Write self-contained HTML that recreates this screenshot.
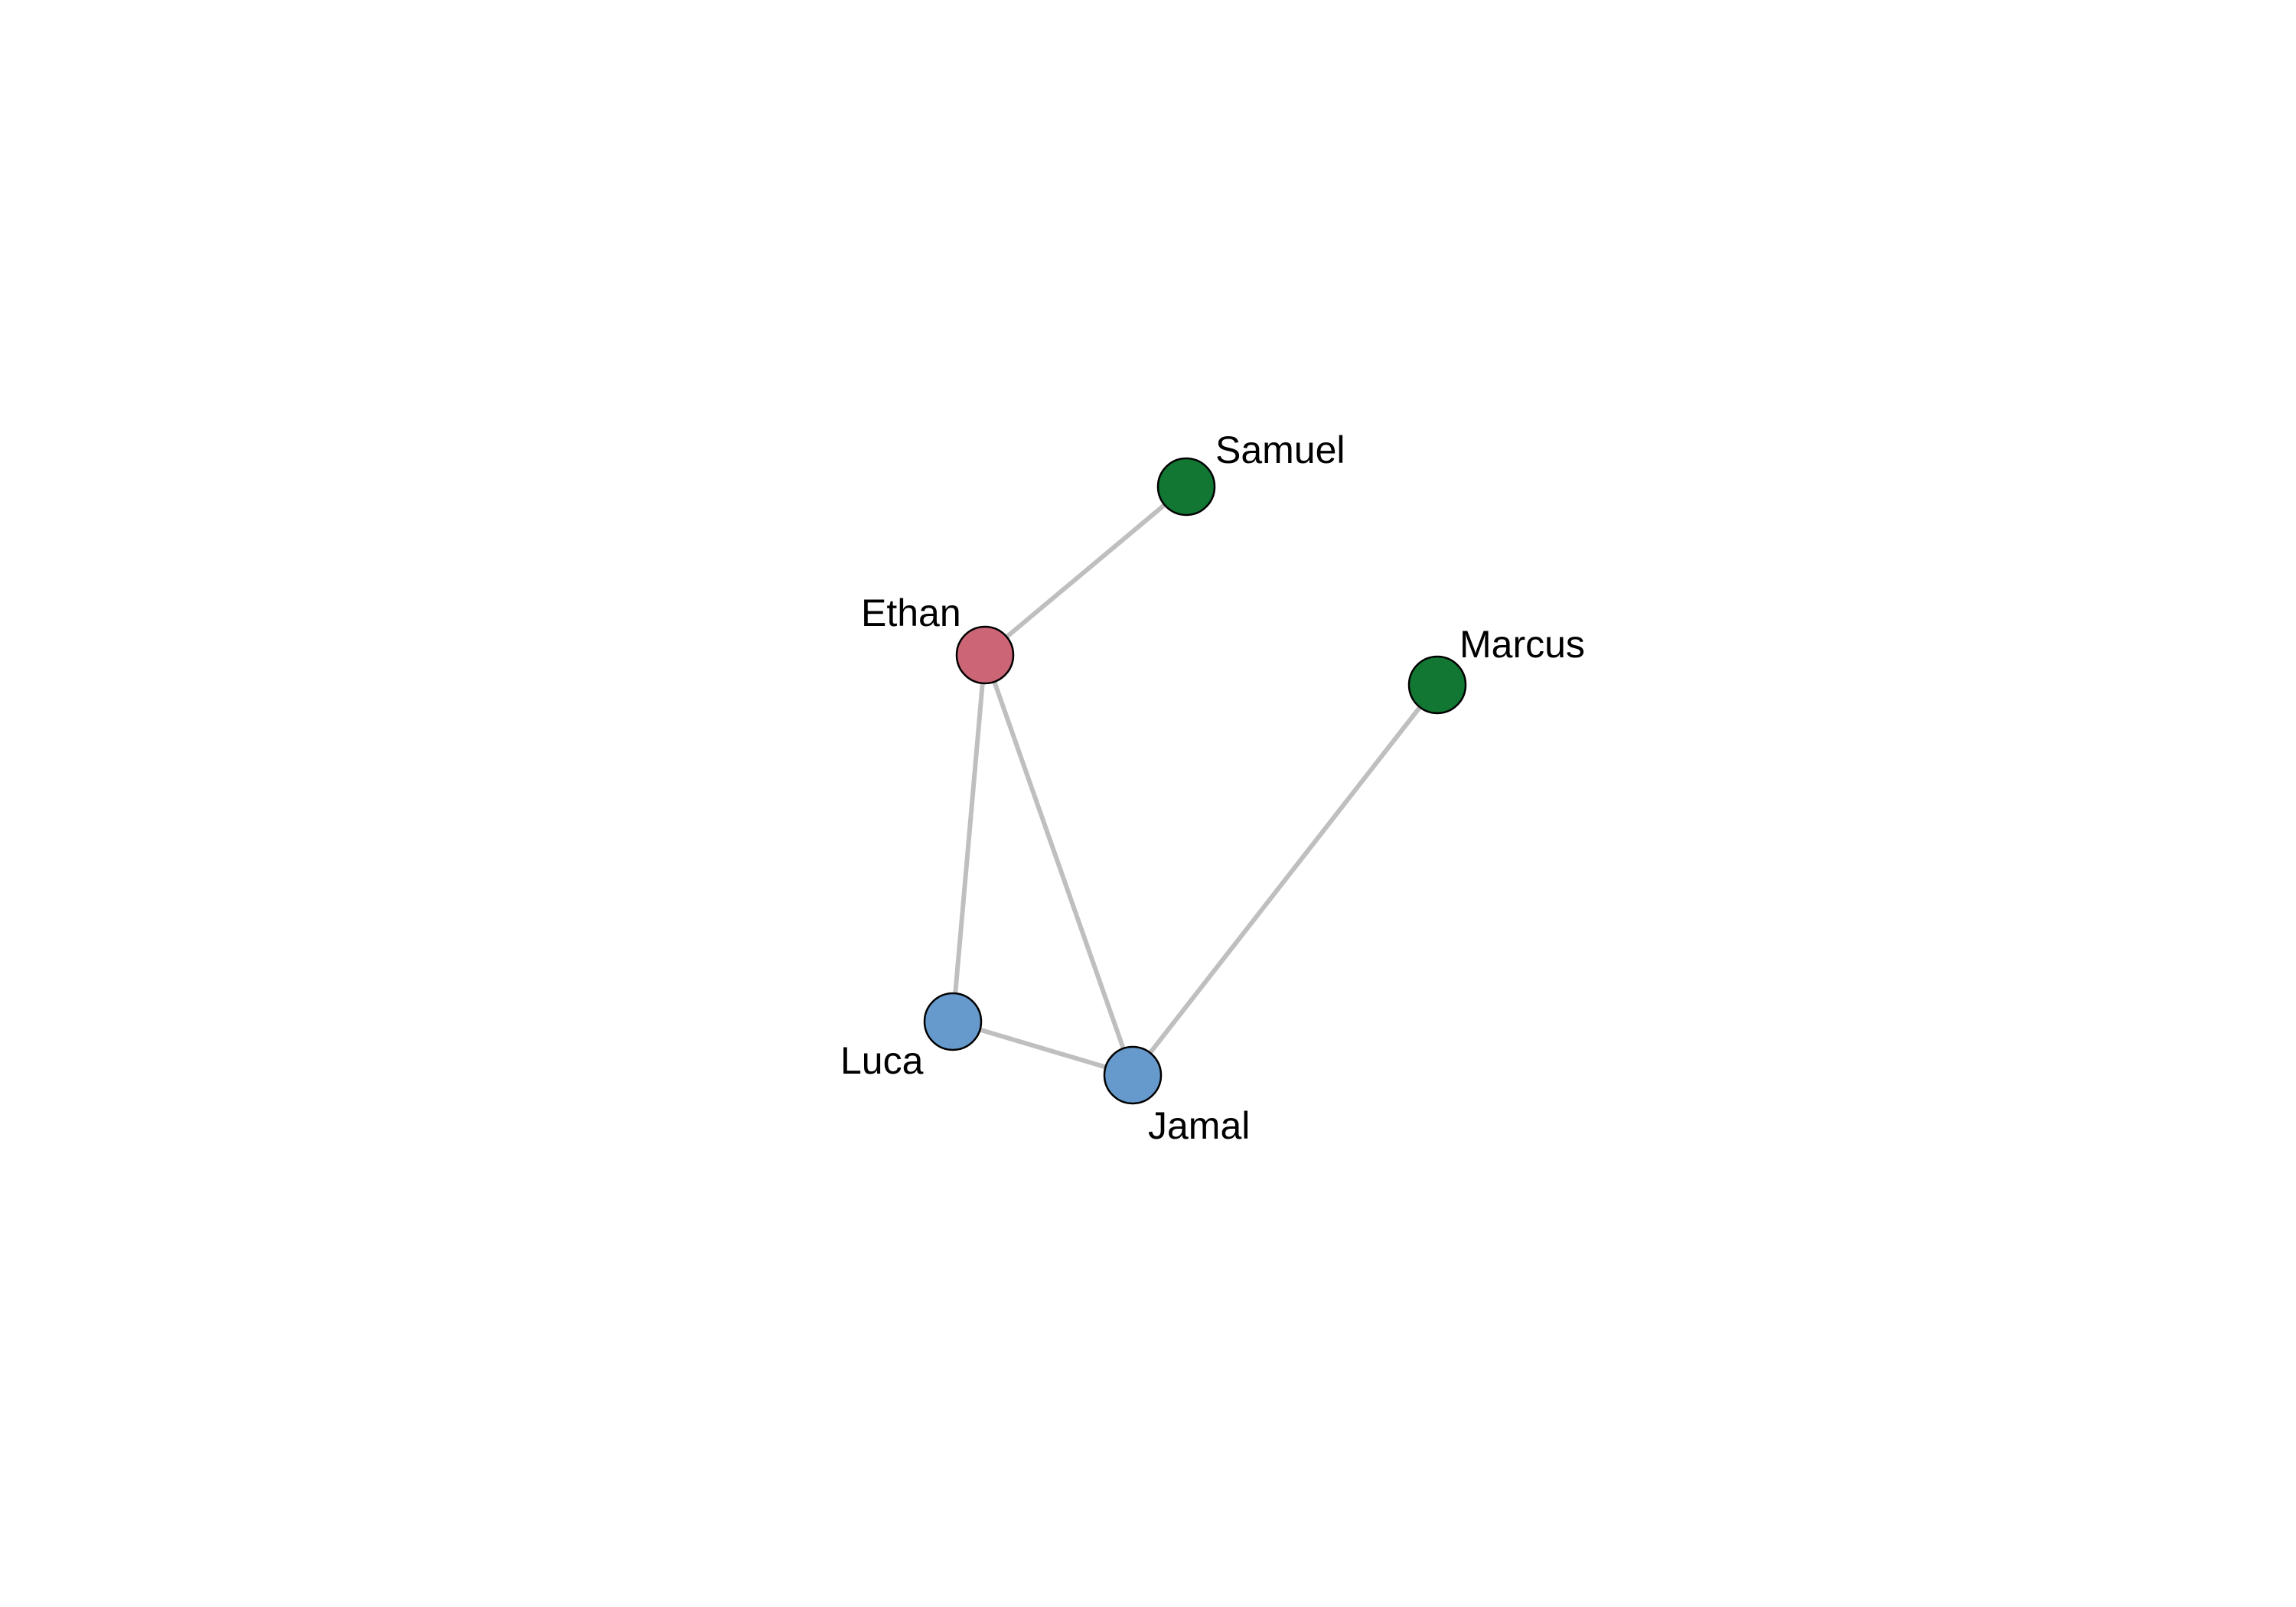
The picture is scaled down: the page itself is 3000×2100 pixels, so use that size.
<!DOCTYPE html>
<html><head><meta charset="utf-8"><style>html,body{margin:0;padding:0;background:#fff}svg{display:block}</style></head>
<body>
<svg width="3000" height="2100" viewBox="0 0 3000 2100" xmlns="http://www.w3.org/2000/svg">
<rect width="3000" height="2100" fill="#fff"/>
<g stroke="#bfbfbf" stroke-width="6" fill="none">
<line x1="1287" y1="856" x2="1550" y2="636"/>
<line x1="1287" y1="856" x2="1245" y2="1335"/>
<line x1="1287" y1="856" x2="1480" y2="1405"/>
<line x1="1245" y1="1335" x2="1480" y2="1405"/>
<line x1="1480" y1="1405" x2="1878" y2="895"/>
</g>
<g stroke="#000" stroke-width="2.5">
<circle cx="1550" cy="636" r="37" fill="#117733"/>
<circle cx="1287" cy="856" r="37" fill="#cc6677"/>
<circle cx="1878" cy="895" r="37" fill="#117733"/>
<circle cx="1245" cy="1335" r="37" fill="#6699cc"/>
<circle cx="1480" cy="1405" r="37" fill="#6699cc"/>
</g>
<g font-family="Liberation Sans, Arial, sans-serif" font-size="50" fill="#000">
<text x="1588" y="605">Samuel</text>
<text x="1125" y="818">Ethan</text>
<text x="1907" y="859">Marcus</text>
<text x="1098" y="1403">Luca</text>
<text x="1500" y="1488">Jamal</text>
</g>
</svg>
</body></html>
